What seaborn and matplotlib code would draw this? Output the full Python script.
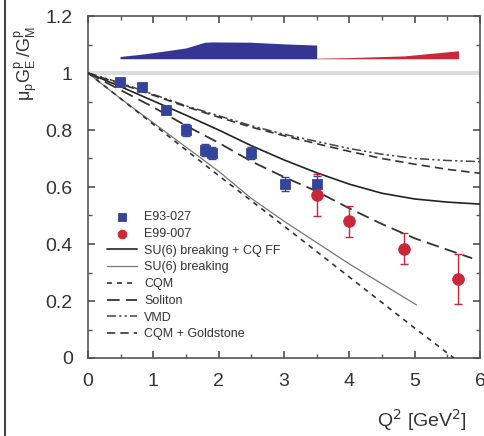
import numpy as np
import pandas as pd
import matplotlib
matplotlib.use("Agg")
import matplotlib.pyplot as plt
import seaborn as sns
from matplotlib.lines import Line2D
from matplotlib.ticker import MultipleLocator

# ---- data ----
e93_q2 = [0.49, 0.82, 1.20, 1.50, 1.79, 1.90, 2.49, 3.02, 3.50]
e93_r = [0.97, 0.95, 0.87, 0.80, 0.73, 0.72, 0.72, 0.61, 0.61]
e93_err = [0.012, 0.012, 0.015, 0.02, 0.02, 0.02, 0.02, 0.025, 0.03]

e99_q2 = [3.50, 4.00, 4.84, 5.67]
e99_r = [0.572, 0.48, 0.384, 0.277]
e99_err = [0.074, 0.055, 0.055, 0.088]

# systematic error bands (top of band; bottom at base)
band_base = 1.05
e93_sys_x = [0.49, 0.82, 1.20, 1.50, 1.79, 1.90, 2.49, 3.02, 3.50]
e93_sys_top = [1.058, 1.066, 1.078, 1.088, 1.108, 1.109, 1.108, 1.102, 1.098]
e99_sys_x = [3.50, 4.00, 4.84, 5.67]
e99_sys_top = [1.052, 1.054, 1.060, 1.078]

q2_grid = [0, 0.5, 1, 1.5, 2, 2.5, 3, 3.5, 4, 4.5, 5, 5.5, 6]
su6_cqff = [1.0, 0.952, 0.902, 0.852, 0.80, 0.745, 0.695, 0.65, 0.61, 0.578, 0.558, 0.547, 0.54]
su6_q2 = [0, 0.5, 1, 1.5, 2, 2.5, 3, 3.5, 4, 4.5, 5.03]
su6 = [1.0, 0.91, 0.825, 0.74, 0.655, 0.56, 0.48, 0.405, 0.33, 0.26, 0.186]
cqm_q2 = [0, 1, 2, 3, 4, 5, 5.6]
cqm = [1.0, 0.82, 0.64, 0.463, 0.284, 0.105, 0.0]
soliton_q2 = [0, 0.5, 1, 1.5, 2, 2.5, 3, 3.5, 4, 4.5, 5, 5.5, 5.88]
soliton = [1.0, 0.94, 0.88, 0.815, 0.755, 0.69, 0.635, 0.585, 0.525, 0.47, 0.42, 0.38, 0.35]
vmd = [1.0, 0.965, 0.925, 0.885, 0.85, 0.815, 0.785, 0.76, 0.735, 0.715, 0.70, 0.693, 0.689]
cqm_gold = [1.0, 0.962, 0.922, 0.882, 0.845, 0.81, 0.78, 0.752, 0.725, 0.70, 0.68, 0.662, 0.648]

x_ticks = [0, 1, 2, 3, 4, 5, 6]
y_ticks = [0, 0.2, 0.4, 0.6, 0.8, 1.0, 1.2]
y_ticklabels = ["0", "0.2", "0.4", "0.6", "0.8", "1", "1.2"]

sns.set_theme(style="ticks")
plt.rcParams['font.family'] = ['Liberation Sans', 'DejaVu Sans']

fig = plt.figure(figsize=(4.84, 4.36), dpi=100)
ax = fig.add_axes([88/484, 1 - 358/436, (480-88)/484, (358-16)/436])

blue = "#34449a"
red = "#c82838"
band_blue = "#353594"

# reference line at 1
ax.axhline(1.0, color="#dcdcdc", lw=3, zorder=1)

# bands
ax.fill_between(e93_sys_x, band_base, e93_sys_top, color=band_blue, lw=0, zorder=2)
ax.fill_between(e99_sys_x, band_base, e99_sys_top, color=red, lw=0, zorder=2)

# theory curves
df_main = pd.DataFrame({"q2": q2_grid, "su6_cqff": su6_cqff, "vmd": vmd, "cqm_gold": cqm_gold})
sns.lineplot(data=df_main, x="q2", y="su6_cqff", ax=ax, color="#222222", lw=1.2,
             label="SU(6) breaking + CQ FF", zorder=3)
sns.lineplot(x=su6_q2, y=su6, ax=ax, color="#777777", lw=0.9,
             label="SU(6) breaking", zorder=3)
sns.lineplot(x=cqm_q2, y=cqm, ax=ax, color="#333333", lw=1.2,
             label="CQM", zorder=3).lines[-1].set_dashes([3, 3])
sns.lineplot(x=soliton_q2, y=soliton, ax=ax, color="#333333", lw=1.3,
             label="Soliton", zorder=3).lines[-1].set_dashes([7, 3.5])
sns.lineplot(data=df_main, x="q2", y="vmd", ax=ax, color="#444444", lw=1.1,
             label="VMD", zorder=3).lines[-1].set_dashes([6, 2, 1.5, 2, 1.5, 2])
sns.lineplot(data=df_main, x="q2", y="cqm_gold", ax=ax, color="#333333", lw=1.2,
             label="CQM + Goldstone", zorder=3).lines[-1].set_dashes([5, 3])

# data
ax.errorbar(e93_q2, e93_r, yerr=e93_err, fmt="none", ecolor=blue, elinewidth=1, capsize=3, zorder=4)
ax.errorbar(e99_q2, e99_r, yerr=e99_err, fmt="none", ecolor=red, elinewidth=1, capsize=3, zorder=4)
sns.scatterplot(x=e93_q2, y=e93_r, ax=ax, marker="s", s=55, color=blue, edgecolor=blue,
                label="E93-027", zorder=5)
sns.scatterplot(x=e99_q2, y=e99_r, ax=ax, marker="o", s=70, color=red, edgecolor=red,
                label="E99-007", zorder=5)

# legend ordering
handles, labels = ax.get_legend_handles_labels()
order = ["E93-027", "E99-007", "SU(6) breaking + CQ FF", "SU(6) breaking", "CQM",
         "Soliton", "VMD", "CQM + Goldstone"]
hmap = dict(zip(labels, handles))
leg = ax.legend([hmap[k] for k in order], order, loc="upper left",
                bbox_to_anchor=(0.025, 0.455), frameon=False, fontsize=9,
                handlelength=2.4, handletextpad=0.6, labelspacing=0.38,
                borderpad=0.2, markerscale=0.75)
for t in leg.get_texts():
    t.set_color("#333333")

ax.set_xlim(0, 6)
ax.set_ylim(0, 1.2)
ax.set_xticks(x_ticks)
ax.set_yticks(y_ticks)
ax.set_yticklabels(y_ticklabels)
ax.xaxis.set_minor_locator(MultipleLocator(0.5))
ax.yaxis.set_minor_locator(MultipleLocator(0.1))
ax.tick_params(which="both", direction="in", top=True, right=True, colors="#555555",
               labelcolor="#333333", labelsize=14)
ax.tick_params(which="major", length=5)
ax.tick_params(which="minor", length=3)
ax.tick_params(axis="x", pad=11)
ax.tick_params(axis="y", pad=11)
for sp in ax.spines.values():
    sp.set_color("#555555")
    sp.set_linewidth(1.2)
ax.set_xlabel("")
ax.set_ylabel("")

fig.text(422/484, 1 - 420/436, r"Q$^2$ [GeV$^2$]", fontsize=14, color="#333333",
         ha="center", va="center")
fig.text(26/484, 1 - 64/436, r"$\mathregular{\mu_p G_E^p\,/G_M^p}$", fontsize=13, color="#333333",
         rotation=90, ha="center", va="center")

# page border line at left
fig.add_artist(Line2D([5/484, 5/484], [0, 1], transform=fig.transFigure,
                      color="#444444", lw=1.5))

fig.savefig("out.png", dpi=100)
